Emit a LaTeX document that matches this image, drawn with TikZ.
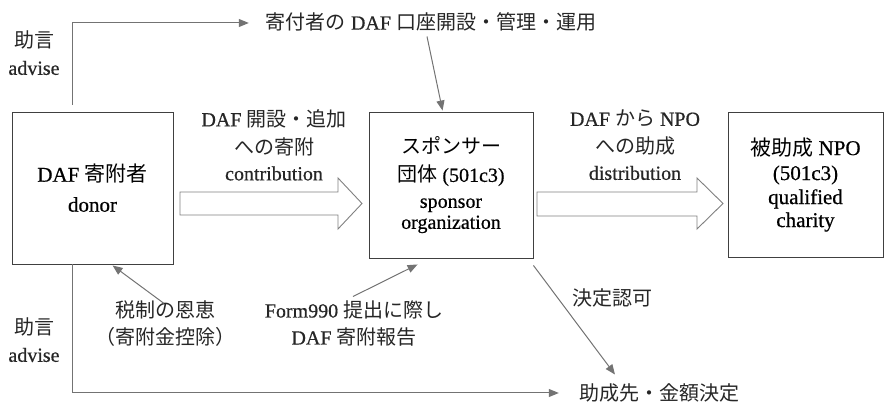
\documentclass[tikz,border=0pt]{standalone}
\usepackage{fontspec}
\setmainfont{Liberation Serif}[FakeBold=0.6]
\newfontfamily\jpf{Noto Sans CJK JP}
\newcommand\jp[1]{{\jpf #1}}
\usetikzlibrary{arrows.meta,calc}
\tikzset{
  box/.style={draw=black!75, line width=0.9pt, align=center, inner sep=0pt},
  conn/.style={draw=black!55, line width=1pt, -{Triangle[length=10pt,width=8pt]}},
  hollow/.style={draw=black!50, line width=0.9pt, fill=white, line join=miter},
  lbl/.style={align=center, inner sep=1pt, text=black!85},
  fa/.style={font=\fontsize{20}{27}\selectfont},
  fb/.style={font=\fontsize{21}{30}\selectfont},
}
\begin{document}
\begin{tikzpicture}[x=1pt,y=-1pt]
\useasboundingbox (0,0) rectangle (884,403);

% boxes
\node[box, fb, minimum width=161pt, minimum height=152pt] (b1) at (92.5,188)
  {DAF \jp{寄附者}\\donor};
\node[box, fa, minimum width=164pt, minimum height=146pt] (b2) at (451,185)
  {\jp{スポンサー}\\[1pt]\jp{団体} (501c3)\\[-1pt]sponsor\\[-6pt]organization};
\node[box, fb, minimum width=155pt, minimum height=145pt] (b3) at (805.5,184.5)
  {\jp{被助成} NPO\\[-5pt](501c3)\\[-6pt]qualified\\[-7pt]charity};

% hollow block arrows
\draw[hollow] (180,192) -- (338,192) -- (338,178) -- (362,203.5) -- (338,229)
  -- (338,215) -- (180,215) -- cycle;
\draw[hollow] (537,192) -- (697,192) -- (697,178) -- (723,203.5) -- (697,229)
  -- (697,216) -- (537,216) -- cycle;

% labels on block arrows
\node[lbl, fa] (l1) at (274,145) {DAF \jp{開設・追加}\\[1pt]\jp{への寄附}\\[-1pt]contribution};
\node[lbl, fa] (l2) at (635,145) {DAF \jp{から} NPO\\[1pt]\jp{への助成}\\[-1pt]distribution};

% top text
\node[lbl, fa] (top) at (431,22) {\jp{寄付者の} DAF \jp{口座開設・管理・運用}};
\node[lbl, fa] (adv1) at (34,53) {\jp{助言}\\advise};

% bottom texts
\node[lbl, fa] (tax) at (165,323.5) {\jp{税制の恩恵}\\\jp{（寄附金控除）}};
\node[lbl, fa] (form) at (354,323.5) {Form990 \jp{提出に際し}\\DAF \jp{寄附報告}};
\node[lbl, fa] (adv2) at (34,340) {\jp{助言}\\advise};
\node[lbl, fa] (ok) at (612,298) {\jp{決定認可}};
\node[lbl, fa] (dec) at (659,393) {\jp{助成先・金額決定}};

% connectors
\coordinate (ta) at ($(b1.north west)+(61,-7)$);
\draw[conn] (ta) |- ($(top.west)+(-16,1)$);
\draw[conn] ($(top.south)+(-4,4)$) -- ($(b2.north west)+(74,-1)$);

\coordinate (ba) at ($(b1.south west)+(61,0)$);
\draw[conn] (ba) |- ($(dec.west)+(-19,0)$);

\draw[conn] ($(tax.north)+(-1,4)$) -- ($(b1.south west)+(101,1)$);
\draw[conn] ($(form.north)+(-1,-3)$) -- ($(b2.south west)+(49,6)$);
\draw[conn] ($(b2.south east)+(0,7)$) -- ($(dec.north)+(-44,-8)$);
\end{tikzpicture}
\end{document}
